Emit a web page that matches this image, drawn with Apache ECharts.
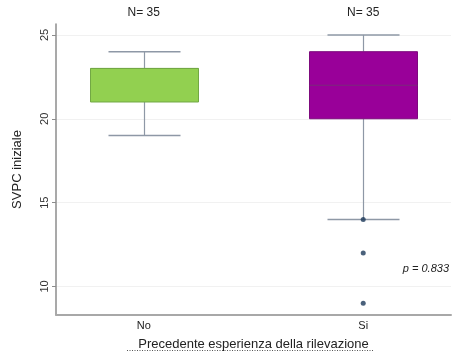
<!DOCTYPE html>
<html>
<head>
<meta charset="utf-8">
<script src="https://cdn.jsdelivr.net/npm/echarts@6/dist/echarts.min.js"></script>
<style>
  html, body { margin: 0; padding: 0; background: #fff; }
  #main { width: 465px; height: 353px; }
</style>
</head>
<body>
<div id="main"></div>
<script>
// categories and box statistics (min, q1, median, q3, max)
const categories = ['No', 'Si'];
const nLabels = ['N= 35', 'N= 35'];
const boxNo = [19, 21, 23, 23, 24];
const boxSi = [14, 20, 22, 24, 25];
const outliersSi = [14, 12, 9];
const yTicks = [10, 15, 20, 25];
const pText = 'p = 0.833';

const boxColors = ['#92d050', '#990099'];
const boxBorders = ['#72a844', '#7d0a7d'];
const medianColors = ['#72a844', '#7a2a7a'];
const whiskerColor = '#8e98a6';
const font = '"Liberation Sans", Arial, sans-serif';

const boxData = [boxNo, boxSi].map((b, i) => [i + 1].concat(b));
const outlierData = outliersSi.map(v => [2, v]);

const chart = echarts.init(document.getElementById('main'));

function renderBox(params, api) {
  const i = params.dataIndex;
  const x = api.value(0);
  const pMin = api.coord([x, api.value(1)]);
  const pQ1 = api.coord([x, api.value(2)]);
  const pMed = api.coord([x, api.value(3)]);
  const pQ3 = api.coord([x, api.value(4)]);
  const pMax = api.coord([x, api.value(5)]);
  const cx = Math.round(pMin[0]) + 0.5;
  const halfBox = 54, halfCap = 36;
  const line = (x1, y1, x2, y2, color, w) => ({
    type: 'line',
    shape: { x1: x1, y1: y1, x2: x2, y2: y2 },
    style: { stroke: color, lineWidth: w }
  });
  return {
    type: 'group',
    children: [
      line(cx, pMin[1], cx, pQ1[1], whiskerColor, 1.2),
      line(cx, pQ3[1], cx, pMax[1], whiskerColor, 1.2),
      line(cx - halfCap, pMin[1], cx + halfCap, pMin[1], whiskerColor, 1.5),
      line(cx - halfCap, pMax[1], cx + halfCap, pMax[1], whiskerColor, 1.5),
      {
        type: 'rect',
        shape: { x: cx - halfBox, y: pQ3[1], width: halfBox * 2, height: pQ1[1] - pQ3[1] },
        style: { fill: boxColors[i], stroke: boxBorders[i], lineWidth: 1 }
      },
      line(cx - halfBox, pMed[1], cx + halfBox, pMed[1], medianColors[i], 1)
    ]
  };
}

chart.setOption({
  animation: false,
  backgroundColor: '#fff',
  grid: { left: 56, right: 14, top: 24, bottom: 38, outerBoundsMode: 'none', containLabel: false },
  xAxis: [
    {
      type: 'value',
      min: 0.6,
      max: 2.4,
      position: 'bottom',
      axisLine: { lineStyle: { color: '#a8a8a8', width: 2 } },
      axisTick: { show: false },
      splitLine: { show: false },
      axisLabel: {
        customValues: [1, 2],
        formatter: v => categories[Math.round(v) - 1],
        color: '#222',
        fontSize: 11,
        fontFamily: font,
        margin: 5
      },
      name: 'Precedente esperienza della rilevazione',
      nameLocation: 'middle',
      nameGap: 23,
      nameTextStyle: { color: '#222', fontSize: 13, fontFamily: font }
    },
    {
      type: 'value',
      min: 0.6,
      max: 2.4,
      position: 'top',
      axisLine: { show: false },
      axisTick: { show: false },
      splitLine: { show: false },
      axisLabel: {
        customValues: [1, 2],
        formatter: v => nLabels[Math.round(v) - 1],
        color: '#222',
        fontSize: 12,
        fontFamily: font,
        margin: 5
      }
    }
  ],
  yAxis: {
    type: 'value',
    min: 8.3,
    max: 25.65,
    axisLine: { show: true, lineStyle: { color: '#8c8c8c', width: 1.5 } },
    axisTick: { show: true, customValues: yTicks, length: 4, lineStyle: { color: '#8c8c8c' } },
    splitLine: { show: true, lineStyle: { color: '#f1f1f1', width: 1 } },
    axisLabel: {
      customValues: yTicks,
      rotate: 90,
      color: '#333',
      fontSize: 11,
      fontFamily: font,
      margin: 6
    },
    name: 'SVPC iniziale',
    nameLocation: 'middle',
    nameGap: 32,
    nameTextStyle: { color: '#222', fontSize: 13, fontFamily: font }
  },
  series: [
    {
      type: 'custom',
      renderItem: renderBox,
      encode: { x: 0, y: [1, 2, 3, 4, 5] },
      data: boxData,
      z: 2
    },
    {
      type: 'scatter',
      data: outlierData,
      symbolSize: 5,
      itemStyle: { color: '#1d3a5a' },
      z: 3
    }
  ],
  graphic: [
    {
      type: 'text',
      right: 16,
      top: 263,
      style: {
        text: pText,
        fill: '#222',
        font: 'italic 11px ' + font
      }
    },
    {
      type: 'line',
      shape: { x1: 127, y1: 350.5, x2: 373, y2: 350.5 },
      style: { stroke: '#555', lineWidth: 1, lineDash: [1, 1.5] }
    }
  ]
});
</script>
</body>
</html>
